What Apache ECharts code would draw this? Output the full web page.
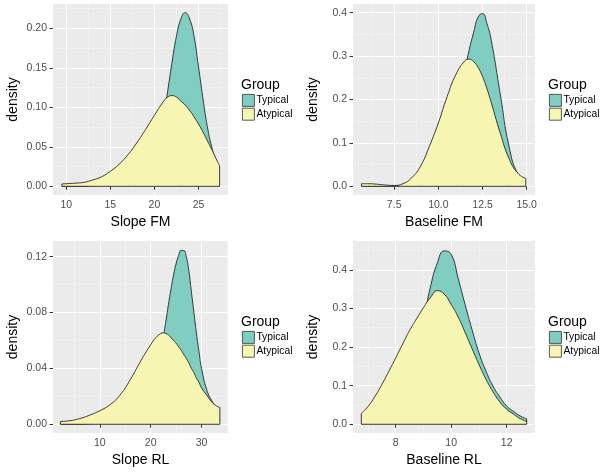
<!DOCTYPE html>
<html>
<head>
    <meta charset="utf-8">
    <title>density by group</title>
    <script src="https://cdn.jsdelivr.net/npm/echarts@6/dist/echarts.min.js"></script>
</head>
<body style="margin:0;background:#fff;">
<div id="main" style="width:600px;height:474px;"></div>
<script type="text/javascript">
    // ---- Slope FM ----
    var slopeFmX        = [9.5, 11, 12, 13, 14, 15, 16, 17, 18, 19, 20, 21, 21.5, 22, 22.5, 23, 23.5, 24, 24.5, 25, 25.5, 26, 26.5, 27, 27.4];
    var slopeFmTypical  = [0, 0, 0, 0.001, 0.001, 0.002, 0.003, 0.005, 0.010, 0.020, 0.035, 0.085, 0.120, 0.157, 0.190, 0.212, 0.220, 0.212, 0.190, 0.152, 0.112, 0.076, 0.050, 0.030, 0.018];
    var slopeFmAtypical = [0.003, 0.004, 0.005, 0.008, 0.012, 0.019, 0.028, 0.040, 0.055, 0.072, 0.090, 0.107, 0.113, 0.115, 0.113, 0.108, 0.103, 0.096, 0.088, 0.079, 0.069, 0.058, 0.047, 0.035, 0.026];
    var slopeFmXTicks = [10, 15, 20, 25];
    var slopeFmYTicks = [0, 0.05, 0.10, 0.15, 0.20];
    var slopeFmXMinor = [12.5, 17.5, 22.5, 27.5];
    var slopeFmYMinor = [0.025, 0.075, 0.125, 0.175, 0.225];

    // ---- Baseline FM ----
    var baseFmX        = [5.65, 6, 6.5, 7, 7.5, 8, 8.5, 9, 9.5, 10, 10.5, 11, 11.5, 11.75, 12, 12.25, 12.5, 12.75, 13, 13.5, 14, 14.5, 14.95];
    var baseFmTypical  = [0, 0, 0, 0, 0.001, 0.002, 0.004, 0.008, 0.016, 0.033, 0.070, 0.140, 0.265, 0.315, 0.355, 0.390, 0.398, 0.375, 0.335, 0.213, 0.092, 0.028, 0.012];
    var baseFmAtypical = [0.006, 0.006, 0.005, 0.003, 0.002, 0.006, 0.020, 0.047, 0.093, 0.146, 0.207, 0.258, 0.289, 0.293, 0.287, 0.274, 0.253, 0.225, 0.192, 0.123, 0.064, 0.030, 0.018];
    var baseFmXTicks = [7.5, 10, 12.5, 15];
    var baseFmYTicks = [0, 0.1, 0.2, 0.3, 0.4];
    var baseFmXMinor = [6.25, 8.75, 11.25, 13.75];
    var baseFmYMinor = [0.05, 0.15, 0.25, 0.35];

    // ---- Slope RL ----
    var slopeRlX        = [2.26, 4, 6, 8, 10, 12, 14, 16, 18, 20, 21, 22, 22.5, 23, 23.5, 24, 24.5, 25, 25.5, 26, 26.5, 27, 27.5, 28, 28.5, 29, 29.5, 30, 31, 32, 33, 33.6];
    var slopeRlTypical  = [0, 0, 0, 0.0003, 0.0006, 0.001, 0.002, 0.004, 0.010, 0.025, 0.038, 0.055, 0.063, 0.074, 0.086, 0.097, 0.107, 0.115, 0.121, 0.1245, 0.1245, 0.120, 0.110, 0.095, 0.080, 0.065, 0.052, 0.040, 0.025, 0.017, 0.012, 0.010];
    var slopeRlAtypical = [0.002, 0.0025, 0.004, 0.0065, 0.0097, 0.014, 0.021, 0.032, 0.045, 0.057, 0.062, 0.065, 0.0655, 0.065, 0.064, 0.062, 0.060, 0.058, 0.0555, 0.053, 0.050, 0.047, 0.044, 0.040, 0.037, 0.033, 0.030, 0.026, 0.021, 0.016, 0.013, 0.012];
    var slopeRlXTicks = [10, 20, 30];
    var slopeRlYTicks = [0, 0.04, 0.08, 0.12];
    var slopeRlXMinor = [5, 15, 25, 35];
    var slopeRlYMinor = [0.02, 0.06, 0.10];

    // ---- Baseline RL ----
    var baseRlX        = [6.76, 7, 7.25, 7.5, 7.75, 8, 8.25, 8.5, 8.75, 9, 9.25, 9.5, 9.75, 10, 10.25, 10.5, 10.75, 11, 11.25, 11.5, 11.75, 12, 12.25, 12.5, 12.72];
    var baseRlTypical  = [0.002, 0.004, 0.008, 0.015, 0.028, 0.050, 0.085, 0.135, 0.200, 0.270, 0.355, 0.418, 0.449, 0.440, 0.378, 0.310, 0.245, 0.185, 0.138, 0.100, 0.071, 0.047, 0.033, 0.021, 0.014];
    var baseRlAtypical = [0.028, 0.046, 0.072, 0.103, 0.137, 0.172, 0.208, 0.243, 0.273, 0.302, 0.328, 0.346, 0.337, 0.310, 0.278, 0.238, 0.196, 0.155, 0.117, 0.085, 0.058, 0.039, 0.026, 0.014, 0.007];
    var baseRlXTicks = [8, 10, 12];
    var baseRlYTicks = [0, 0.1, 0.2, 0.3, 0.4];
    var baseRlXMinor = [7, 9, 11];
    var baseRlYMinor = [0.05, 0.15, 0.25, 0.35, 0.45];

    var groups = ['Typical', 'Atypical'];
    var TYPICAL = '#80cdc1';
    var ATYPICAL = '#f6f5b1';
    var OUTLINE = '#262626';
    var FONT = 'Liberation Sans, Arial, Helvetica, sans-serif';

    // 面板布局（像素）和坐标范围
    var panels = [
        {title: 'Slope FM', x: slopeFmX, typ: slopeFmTypical, aty: slopeFmAtypical, xTicks: slopeFmXTicks, yTicks: slopeFmYTicks,
         xMinor: slopeFmXMinor, yMinor: slopeFmYMinor, xMin: 8.5, xMax: 28.35, yMin: -0.011, yMax: 0.231, xDec: 0, yDec: 2,
         left: 53, top: 4, width: 175, height: 191},
        {title: 'Baseline FM', x: baseFmX, typ: baseFmTypical, aty: baseFmAtypical, xTicks: baseFmXTicks, yTicks: baseFmYTicks,
         xMinor: baseFmXMinor, yMinor: baseFmYMinor, xMin: 5.17, xMax: 15.47, yMin: -0.02, yMax: 0.42, xDec: 1, yDec: 1,
         left: 353, top: 4, width: 182, height: 191},
        {title: 'Slope RL', x: slopeRlX, typ: slopeRlTypical, aty: slopeRlAtypical, xTicks: slopeRlXTicks, yTicks: slopeRlYTicks,
         xMinor: slopeRlXMinor, yMinor: slopeRlYMinor, xMin: 0.8, xMax: 35.2, yMin: -0.00625, yMax: 0.13125, xDec: 0, yDec: 2,
         left: 53, top: 241, width: 175, height: 192},
        {title: 'Baseline RL', x: baseRlX, typ: baseRlTypical, aty: baseRlAtypical, xTicks: baseRlXTicks, yTicks: baseRlYTicks,
         xMinor: baseRlXMinor, yMinor: baseRlYMinor, xMin: 6.46, xMax: 13.02, yMin: -0.0226, yMax: 0.4746, xDec: 0, yDec: 1,
         left: 353, top: 241, width: 182, height: 192}
    ];

    function pairs(xs, ys) {
        return xs.map(function (x, i) { return [x, ys[i]]; });
    }

    // 多边形的两条竖边和底边
    function edgeData(p) {
        var last = p.x.length - 1;
        return [
            [p.x[0], Math.max(p.typ[0], p.aty[0])],
            [p.x[0], 0],
            [p.x[last], 0],
            [p.x[last], Math.max(p.typ[last], p.aty[last])]
        ];
    }

    function fmt(dec) {
        return function (v) { return v.toFixed(dec); };
    }

    var grids = [], xAxes = [], yAxes = [], series = [], legends = [], titles = [];
    var n = panels.length;

    panels.forEach(function (p, i) {
        grids.push({left: p.left, top: p.top, width: p.width, height: p.height,
            show: true, backgroundColor: '#ebebeb', borderWidth: 0});

        xAxes[i] = {
            type: 'value', gridIndex: i, min: p.xMin, max: p.xMax,
            name: p.title, nameLocation: 'middle', nameGap: 20,
            nameTextStyle: {fontSize: 14, color: '#000', fontFamily: FONT},
            axisLine: {show: false},
            axisTick: {show: true, length: 3.5, lineStyle: {color: '#333'}, customValues: p.xTicks},
            axisLabel: {customValues: p.xTicks, margin: 5, fontSize: 10.5, color: '#4d4d4d', fontFamily: FONT,
                formatter: fmt(p.xDec)},
            splitLine: {show: true, lineStyle: {color: '#fff', width: 1.1}}
        };
        yAxes[i] = {
            type: 'value', gridIndex: i, min: p.yMin, max: p.yMax,
            name: 'density', nameLocation: 'middle', nameGap: 33,
            nameTextStyle: {fontSize: 14, color: '#000', fontFamily: FONT},
            axisLine: {show: false},
            axisTick: {show: true, length: 3.5, lineStyle: {color: '#333'}, customValues: p.yTicks},
            axisLabel: {customValues: p.yTicks, margin: 6, fontSize: 10.5, color: '#4d4d4d', fontFamily: FONT,
                formatter: fmt(p.yDec)},
            splitLine: {show: true, lineStyle: {color: '#fff', width: 1.1}}
        };
        // 次网格线：另一条隐藏坐标轴
        xAxes[n + i] = {
            type: 'value', gridIndex: i, min: p.xMin, max: p.xMax, position: 'top',
            axisLine: {show: false}, axisLabel: {show: false},
            axisTick: {show: false, customValues: p.xMinor},
            splitLine: {show: true, lineStyle: {color: '#f5f5f5', width: 0.6}}
        };
        yAxes[n + i] = {
            type: 'value', gridIndex: i, min: p.yMin, max: p.yMax, position: 'right',
            axisLine: {show: false}, axisLabel: {show: false},
            axisTick: {show: false, customValues: p.yMinor},
            splitLine: {show: true, lineStyle: {color: '#f5f5f5', width: 0.6}}
        };

        var common = {type: 'line', xAxisIndex: i, yAxisIndex: i, symbol: 'none', smooth: 0.5,
            silent: true, lineStyle: {color: OUTLINE, width: 0.9}};
        series.push(Object.assign({}, common, {name: 'Typical', data: pairs(p.x, p.typ), z: 2,
            itemStyle: {color: TYPICAL}, areaStyle: {color: TYPICAL, opacity: 1}}));
        series.push(Object.assign({}, common, {name: 'Atypical', data: pairs(p.x, p.aty), z: 3,
            itemStyle: {color: ATYPICAL}, areaStyle: {color: ATYPICAL, opacity: 1}}));
        series.push({type: 'line', xAxisIndex: i, yAxisIndex: i, symbol: 'none', silent: true, z: 4,
            data: edgeData(p), lineStyle: {color: OUTLINE, width: 0.9}});

        var lx = p.left + p.width + 14;
        legends.push({
            left: lx, top: p.top + 90, orient: 'vertical', data: groups, icon: 'rect',
            itemWidth: 12, itemHeight: 12, itemGap: 1, padding: 0, selectedMode: false,
            itemStyle: {borderColor: '#333', borderWidth: 0.8},
            textStyle: {fontSize: 10.3, color: '#000', fontFamily: FONT, lineHeight: 12, padding: [0, 0, 0, -3]}
        });
        titles.push({text: 'Group', left: lx - 1, top: p.top + 74, padding: 0,
            textStyle: {fontSize: 14, fontWeight: 'normal', color: '#000', fontFamily: FONT}});
    });

    var chart = echarts.init(document.getElementById('main'));
    chart.setOption({
        animation: false,
        backgroundColor: '#fff',
        title: titles,
        legend: legends,
        grid: grids,
        xAxis: xAxes,
        yAxis: yAxes,
        series: series
    });
</script>
</body>
</html>
